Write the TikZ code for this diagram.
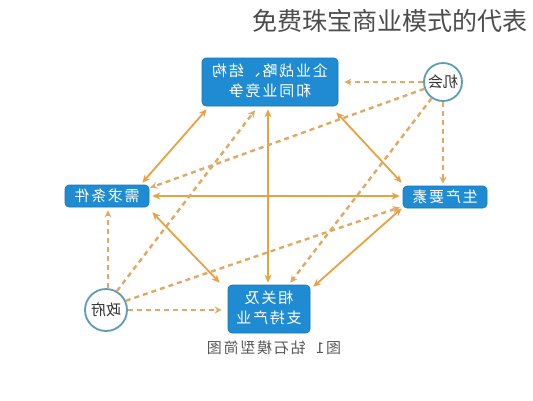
\documentclass[tikz,border=0pt]{standalone}
\usepackage{fontspec}
\usepackage{graphicx}
\setmainfont{Noto Sans CJK SC}
\newfontfamily\cjk{Noto Sans CJK SC}
\newfontfamily\boxfont[LetterSpace=12]{Noto Sans CJK SC}
\usetikzlibrary{arrows.meta}
\definecolor{boxblue}{HTML}{1E8BD3}
\definecolor{arr}{HTML}{E9A243}
\definecolor{darr}{HTML}{E0AA66}
\definecolor{ringc}{HTML}{5E9DB8}
\begin{document}
\begin{tikzpicture}[x=1pt,y=-1pt,
 box/.style={fill=boxblue, draw=boxblue!85!black, line width=0.6pt, rounded corners=4pt, text=white, font=\boxfont\fontsize{15}{20}\selectfont, align=center, inner sep=0pt},
 ringnode/.style={circle, draw=ringc, line width=1.8pt, fill=white, text=black!80, font=\cjk\fontsize{15}{16}\selectfont, inner sep=0pt},
 solidarrow/.style={draw=arr, line width=1.8pt, {Stealth[length=8pt,width=7pt]}-{Stealth[length=8pt,width=7pt]}},
 dasharrow/.style={draw=darr, line width=2.4pt, dash pattern=on 5pt off 4pt, -{Stealth[length=7pt,width=7pt]}}
]
\useasboundingbox[fill=white] (0,0) rectangle (533,400);
% title
\node[font=\cjk\fontsize{25}{28}\selectfont, text=black!70] (title) at (390,21) {免费珠宝商业模式的代表};
% boxes
\node[box, minimum width=136pt, minimum height=48pt] (top) at (270,82) {\reflectbox{\begin{tabular}{@{}c@{}}企业战略、结构\\和同业竞争\end{tabular}}};
\node[box, minimum width=84pt, minimum height=22pt] (left) at (107,196) {\reflectbox{需求条件}};
\node[box, minimum width=84pt, minimum height=22pt] (right) at (445,197) {\reflectbox{生产要素}};
\node[box, minimum width=82pt, minimum height=48pt] (bottom) at (269,309) {\reflectbox{\begin{tabular}{@{}c@{}}相关及\\支持产业\end{tabular}}};
% circles
\node[ringnode, minimum size=38pt] (chance) at (443,82) {\reflectbox{机会}};
\node[ringnode, minimum size=42pt] (gov) at (106,310) {\reflectbox{政府}};
% caption
\node[font=\boxfont\fontsize{15}{17}\selectfont, text=black!65] (cap) at (274,348) {\reflectbox{图1\ \ 钻石模型简图}};
% solid arrows
\draw[solidarrow] ([xshift=5pt,yshift=-3pt]top.south west) -- ([xshift=-7pt,yshift=2pt]left.north east);
\draw[solidarrow] ([xshift=-2pt,yshift=-6pt]top.south east) -- ([xshift=-1pt,yshift=3pt]right.north west);
\draw[solidarrow] ([xshift=3pt,yshift=-5pt]left.south east) -- ([xshift=-8pt,yshift=2pt]bottom.north west);
\draw[solidarrow] ([xshift=-1pt]right.south west) -- ([xshift=3pt,yshift=-2pt]bottom.north east);
\draw[solidarrow, shorten <=3pt, shorten >=3pt] (left.east) -- (left.east -| right.west);
\draw[solidarrow, shorten <=3pt, shorten >=2pt] ([xshift=-2pt]top.south) -- ([xshift=-2pt]top.south |- bottom.north);
% dashed arrows from chance
\draw[dasharrow, shorten >=6pt] (chance.west) -- (chance.west -| top.east);
\draw[dasharrow] (chance.200) -- ([xshift=1pt,yshift=-3pt]left.north east);
\draw[dasharrow] (chance.235) -- ([xshift=-20pt,yshift=2pt]bottom.north east);
\draw[dasharrow, shorten >=2pt] (chance.south) -- (chance.south |- right.north);
% dashed arrows from government
\draw[dasharrow, shorten >=3pt] ([xshift=2pt]gov.north) -- ([xshift=2pt]gov.north |- left.south);
\draw[dasharrow] (gov.60) -- ([xshift=-15pt,yshift=-4pt]top.south);
\draw[dasharrow] (gov.25) -- ([xshift=-3pt,yshift=1pt]right.south west);
\draw[dasharrow, shorten >=6pt] (gov.east) -- (gov.east -| bottom.west);
\end{tikzpicture}
\end{document}
